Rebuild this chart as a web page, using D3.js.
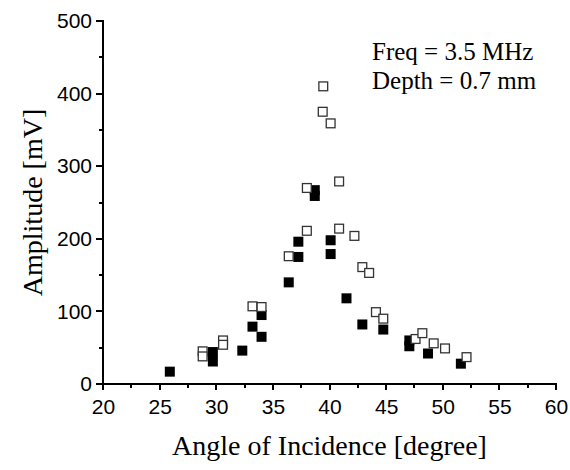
<!DOCTYPE html>
<html>
<head>
<meta charset="utf-8">
<script src="https://cdnjs.cloudflare.com/ajax/libs/d3/7.8.5/d3.min.js"></script>
<style>
    body { margin: 0; background: #fff; color: #000; }
    .tick text { font-family: "Liberation Sans", Arial, sans-serif; font-size: 21px; fill: #000; }
    .axis-title, .note { font-family: "Liberation Serif", "Times New Roman", serif; fill: #000; }
    .axis-line { fill: #000; shape-rendering: crispEdges; }
</style>
</head>
<body>
<div id="chart"></div>
<script>
// angle [degree], amplitude [mV]
let filledAngle = [25.9, 29.7, 29.7, 32.3, 33.2, 34.0, 34.0, 36.4, 37.25, 37.25, 38.7, 38.7,
    40.1, 40.1, 41.5, 42.9, 44.75, 47.05, 47.05, 48.7, 51.6];
let filledAmp = [17, 44, 31, 46, 79, 95, 65, 140, 196, 175, 267, 259,
    198, 179, 118, 82, 75, 60, 52, 42, 28];

let openAngle = [28.8, 28.8, 30.6, 30.6, 33.2, 34.0, 36.4, 38.0, 38.0, 39.45, 39.4, 40.1,
    40.85, 40.85, 42.2, 42.9, 43.5, 44.1, 44.75, 47.6, 48.2, 49.2, 50.2, 52.1];
let openAmp = [45, 38, 60, 54, 107, 106, 176, 211, 270, 410, 375, 359,
    279, 214, 204, 161, 153, 99, 90, 62, 70, 56, 49, 37];

let xTicks = [20, 25, 30, 35, 40, 45, 50, 55, 60];
let yTicks = [0, 100, 200, 300, 400, 500];
let notes = ["Freq = 3.5 MHz", "Depth = 0.7 mm"];

let margin = {top: 21, right: 14, bottom: 86, left: 103};
let width = 570 - margin.left - margin.right;
let height = 470 - margin.top - margin.bottom;

let svg = d3.select("#chart").append("svg")
    .attr("width", 570)
    .attr("height", 470)
    .append("g")
    .attr("transform", "translate(" + margin.left + "," + margin.top + ")");

let x = d3.scaleLinear().domain([20, 60]).range([0, width]);
let y = d3.scaleLinear().domain([0, 500]).range([height, 0]);

// tick labels from d3 axes; the lines are drawn as thin rects below
svg.append("g")
    .attr("transform", "translate(0," + height + ")")
    .call(d3.axisBottom(x).tickValues(xTicks).tickSize(5).tickPadding(10).tickSizeOuter(0))
    .call(g => g.select(".domain").remove())
    .call(g => g.selectAll(".tick line").remove());

svg.append("g")
    .call(d3.axisLeft(y).tickValues(yTicks).tickSize(6).tickPadding(5).tickSizeOuter(0))
    .call(g => g.select(".domain").remove())
    .call(g => g.selectAll(".tick line").remove());

let xMinor = d3.range(22.5, 60, 5);
let yMinor = d3.range(50, 500, 100);
let lw = 2;

svg.selectAll(".xt")
    .data(xTicks.map(v => [v, 6]).concat(xMinor.map(v => [v, 4])))
    .enter().append("rect")
    .attr("class", "axis-line")
    .attr("x", d => Math.round(x(d[0])) - 1)
    .attr("y", height)
    .attr("width", 2)
    .attr("height", d => d[1]);

svg.selectAll(".yt")
    .data(yTicks.map(v => [v, 7]).concat(yMinor.map(v => [v, 4])))
    .enter().append("rect")
    .attr("class", "axis-line")
    .attr("x", d => -d[1])
    .attr("y", d => Math.round(y(d[0])) - 1)
    .attr("width", d => d[1])
    .attr("height", 2);

svg.append("rect")
    .attr("class", "axis-line")
    .attr("x", x(20) - lw / 2)
    .attr("y", Math.round(y(0)) - lw / 2)
    .attr("width", x(60) - x(20) + lw)
    .attr("height", lw);

svg.append("rect")
    .attr("class", "axis-line")
    .attr("x", x(20) - lw / 2)
    .attr("y", y(500) - 1)
    .attr("width", lw)
    .attr("height", y(0) - y(500) + 1);

// points
let size = 10;
let filled = d3.zip(filledAngle, filledAmp);
let open = d3.zip(openAngle, openAmp);

svg.selectAll(".filled")
    .data(filled)
    .enter().append("rect")
    .attr("class", "filled")
    .attr("x", d => x(d[0]) - size / 2)
    .attr("y", d => y(d[1]) - size / 2)
    .attr("width", size)
    .attr("height", size)
    .attr("fill", "#000");

svg.selectAll(".open")
    .data(open)
    .enter().append("rect")
    .attr("class", "open")
    .attr("x", d => x(d[0]) - size / 2 + 0.6)
    .attr("y", d => y(d[1]) - size / 2 + 0.6)
    .attr("width", size - 1.2)
    .attr("height", size - 1.2)
    .attr("fill", "#fff")
    .attr("stroke", "#333")
    .attr("stroke-width", 1.3);

// axis titles
svg.append("text")
    .attr("class", "axis-title")
    .attr("x", width / 2)
    .attr("y", height + 71)
    .attr("text-anchor", "middle")
    .attr("font-size", 28)
    .text("Angle of Incidence [degree]");

svg.append("text")
    .attr("class", "axis-title")
    .attr("transform", "rotate(-90)")
    .attr("x", -height / 2)
    .attr("y", -61)
    .attr("text-anchor", "middle")
    .attr("font-size", 28)
    .text("Amplitude [mV]");

// annotation
svg.selectAll(".note")
    .data(notes)
    .enter().append("text")
    .attr("class", "note")
    .attr("x", 269)
    .attr("y", (d, i) => 39 + i * 28.5)
    .attr("font-size", 25)
    .text(d => d);
</script>
</body>
</html>
